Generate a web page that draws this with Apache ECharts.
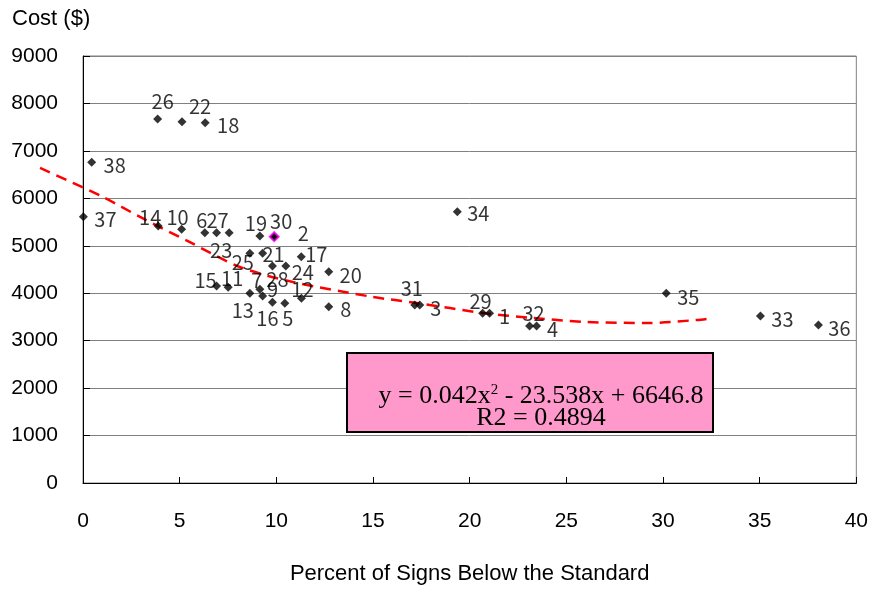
<!DOCTYPE html>
<html>
<head>
<meta charset="utf-8">
<script src="https://cdn.jsdelivr.net/npm/echarts@6/dist/echarts.min.js"></script>
<style>
  html, body { margin: 0; padding: 0; background: #fff; }
  #chart { width: 871px; height: 593px; }
</style>
</head>
<body>
<div id="chart"></div>
<script>
// ---- data ----
const pointIds = [26, 22, 18, 38, 37, 34, 31, 3, 29, 1, 32, 4, 35, 33, 36,
  14, 10, 6, 27, 23, 19, 2, 30, 25, 21, 17, 28, 24, 20, 15, 11, 7, 9, 13, 12, 16, 5, 8];
const pctBelow = [3.86, 5.12, 6.32, 0.45, 0.02, 19.36, 17.16, 17.42, 20.67, 21.03, 23.10, 23.46, 30.17, 35.04, 38.04,
  3.89, 5.10, 6.30, 6.91, 7.56, 9.15, 9.89, 9.89, 8.63, 9.29, 11.29, 9.80, 10.49, 12.71, 6.91, 7.51, 9.15, 9.29, 8.63, 11.30, 9.80, 10.44, 12.71];
const costs = [7673, 7616, 7595, 6760, 5613, 5719, 3752, 3752, 3577, 3577, 3309, 3309, 3999, 3520, 3331,
  5417, 5348, 5276, 5276, 5276, 5207, 5192, 5192, 4842, 4842, 4770, 4574, 4574, 4454, 4153, 4125, 4083, 3942, 3999, 3893, 3809, 3788, 3716];

// trend line as drawn in the reference
const trendX = [-2.22, 1.03, 2.95, 5.5, 8.11, 10.85, 14.99, 17.26, 20.67, 23.26, 26.05, 29.15, 31.73, 32.56];
const trendY = [6640, 6029, 5607, 5080, 4553, 4237, 3921, 3794, 3584, 3478, 3394, 3373, 3436, 3478];

const xTicks = { min: 0, max: 40, interval: 5 };
const yTicks = { min: 0, max: 9000, interval: 1000 };
// the trend line starts a little left of the y axis; it is drawn on a hidden
// axis pair that has exactly the same scale but a lower minimum
const trendAxisMin = -2.5;

const equationText = ['y = 0.042x', '2', ' - 23.538x + 6646.8'];
const r2Text = 'R2 = 0.4894';

// ---- label placement (styling, label centre offset from the point in px) ----
const labelOffset = {
  26: [5, -18], 22: [18, -15], 18: [23, 3], 38: [23, 3], 37: [22, 3],
  14: [-8, -9], 10: [-4, -12], 6: [-3, -12], 27: [1, -12], 23: [-8, 18],
  19: [-4, -13], 30: [7, -15], 2: [29, -3], 25: [-7, 9], 21: [11, 1],
  17: [15, -2], 28: [5, 13], 24: [17, 6], 20: [22, 4], 15: [-11, -6],
  11: [4, -9], 7: [-3, -9], 9: [10, -7], 13: [-7, 17], 12: [1, -9],
  16: [-5, 16], 5: [3, 15], 8: [17, 3], 31: [-3, -17], 3: [16, 3],
  29: [-2, -12], 1: [15, 3], 32: [4, -13], 4: [16, 3], 34: [21, 2],
  35: [22, 4], 33: [22, 3], 36: [21, 3]
};

const labelFont = "'Liberation Sans Narrow', 'Noto Sans CJK JP', sans-serif";
const scatterData = pointIds.map((id, i) => {
  const off = labelOffset[id] || [20, 0];
  const item = {
    value: [pctBelow[i], costs[i]],
    name: String(id),
    label: { offset: off }
  };
  if (id === 30) {
    item.itemStyle = { color: '#000', borderColor: '#ff00ff', borderWidth: 2 };
  }
  return item;
});

const trendData = trendX.map((x, i) => [x, trendY[i]]);

// plot geometry
const gridLeft = 83, gridRight = 14, gridTop = 56, gridBottom = 110;
const plotWidth = 871 - gridLeft - gridRight;
const pxPerUnit = plotWidth / (xTicks.max - xTicks.min);
const trendGridLeft = gridLeft - (xTicks.min - trendAxisMin) * pxPerUnit;

const chart = echarts.init(document.getElementById('chart'), null, { renderer: 'canvas' });
chart.setOption({
  animation: false,
  backgroundColor: '#fff',
  grid: [
    {
      left: gridLeft, right: gridRight, top: gridTop, bottom: gridBottom,
      show: true, borderColor: '#808080', borderWidth: 1, backgroundColor: 'transparent'
    },
    {
      left: trendGridLeft, right: gridRight, top: gridTop, bottom: gridBottom, show: false
    }
  ],
  xAxis: [
    {
      type: 'value', gridIndex: 0,
      min: xTicks.min, max: xTicks.max, interval: xTicks.interval,
      name: 'Percent of Signs Below the Standard',
      nameLocation: 'middle',
      nameGap: 80,
      nameTextStyle: { fontFamily: 'Liberation Sans', fontSize: 22, color: '#000' },
      axisLine: { show: true, onZero: false, lineStyle: { color: '#000', width: 1 } },
      axisTick: { show: true, inside: true, length: 6, lineStyle: { color: '#000' } },
      axisLabel: { fontFamily: 'Liberation Sans', fontSize: 21, color: '#000', margin: 28 },
      splitLine: { show: false }
    },
    {
      type: 'value', gridIndex: 1,
      min: trendAxisMin, max: xTicks.max,
      show: false, splitLine: { show: false }
    }
  ],
  yAxis: [
    {
      type: 'value', gridIndex: 0,
      min: yTicks.min, max: yTicks.max, interval: yTicks.interval,
      axisLine: { show: true, lineStyle: { color: '#000', width: 1 } },
      axisTick: { show: true, inside: true, length: 7, lineStyle: { color: '#000' } },
      axisLabel: {
        fontFamily: 'Liberation Sans', fontSize: 21, color: '#000', margin: 25,
        formatter: v => String(v)
      },
      splitLine: { show: true, lineStyle: { color: '#808080', width: 1 } }
    },
    {
      type: 'value', gridIndex: 1,
      min: yTicks.min, max: yTicks.max,
      show: false, splitLine: { show: false }
    }
  ],
  series: [
    {
      type: 'line',
      xAxisIndex: 1, yAxisIndex: 1,
      data: trendData,
      smooth: 0.3,
      showSymbol: false,
      symbol: 'none',
      lineStyle: { color: '#ff0000', width: 2.5, type: [11, 7] },
      z: 3
    },
    {
      type: 'scatter',
      xAxisIndex: 0, yAxisIndex: 0,
      data: scatterData,
      symbol: 'diamond',
      symbolSize: 9,
      itemStyle: { color: '#000' },
      label: {
        show: true,
        position: 'inside',
        formatter: p => p.name,
        fontFamily: labelFont,
        fontSize: 20,
        color: '#000'
      },
      z: 4
    }
  ],
  graphic: [
    {
      type: 'text',
      left: 12, top: 8,
      style: { text: 'Cost ($)', fontFamily: 'Liberation Sans', fontSize: 22, fill: '#000' }
    },
    {
      type: 'rect',
      shape: { x: 347, y: 353, width: 366, height: 79 },
      style: { fill: '#ff99cc', stroke: '#000', lineWidth: 2 },
      z: 10
    },
    {
      type: 'text',
      x: 541, y: 396,
      style: {
        text: '{a|' + equationText[0] + '}{s|' + equationText[1] + '}{a|' + equationText[2] + '}',
        align: 'center', verticalAlign: 'middle',
        rich: {
          a: { fontFamily: 'Liberation Serif', fontSize: 26, fill: '#000', lineHeight: 26 },
          s: { fontFamily: 'Liberation Serif', fontSize: 15, fill: '#000', verticalAlign: 'top', lineHeight: 26, padding: [0, 0, 10, 0] }
        }
      },
      z: 11
    },
    {
      type: 'text',
      x: 541, y: 418,
      style: {
        text: r2Text, align: 'center', verticalAlign: 'middle',
        fontFamily: 'Liberation Serif', fontSize: 26, fill: '#000'
      },
      z: 11
    }
  ]
});
</script>
</body>
</html>
